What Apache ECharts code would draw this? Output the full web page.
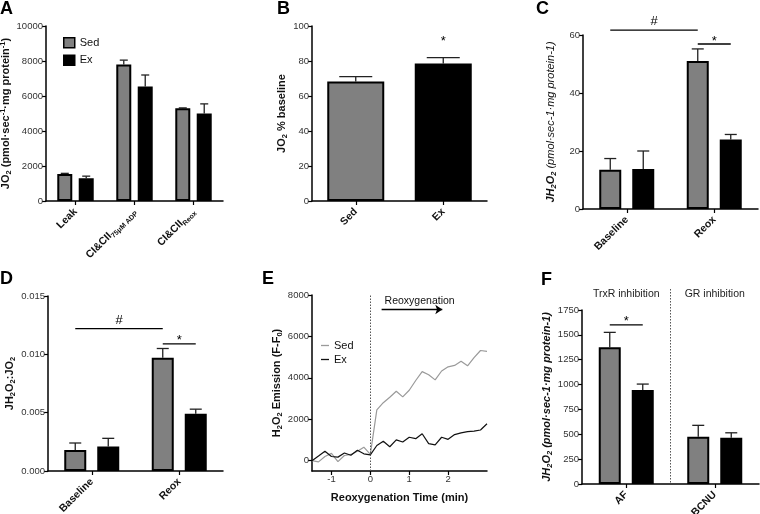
<!DOCTYPE html>
<html><head><meta charset="utf-8">
<script src="https://cdn.jsdelivr.net/npm/echarts@6/dist/echarts.min.js"></script>
<style>html,body{margin:0;padding:0;background:#fff}#c{width:760px;height:514px}</style>
</head><body><div id="c"></div>
<script>
const FF = "'Liberation Sans', Arial, Helvetica, sans-serif";

// ---------- Panel A ----------
const catsA = ['Leak', 'CI&CII_75μM ADP', 'CI&CII_Reox'];
const sedA = [1550, 7800, 5300];
const sedAErr = [30, 250, 20];
const exA = [1300, 6550, 5000];
const exAErr = [120, 650, 550];
const ticksA = [0, 10000, 2000];

// ---------- Panel B ----------
const catsB = ['Sed', 'Ex'];
const valsB = [68.3, 78.6];
const errB = [2.8, 3.3];
const starB = 93;
const ticksB = [0, 100, 20];

// ---------- Panel C ----------
const catsC = ['Baseline', 'Reox'];
const sedC = [13.5, 51.0];
const sedCErr = [3.9, 4.2];
const exC = [13.8, 24.0];
const exCErr = [6.2, 1.7];
const hashC = 61.7, starC = 56.9;
const ticksC = [0, 60, 20];

// ---------- Panel D ----------
const catsD = ['Baseline', 'Reox'];
const sedD = [0.0018, 0.0097];
const sedDErr = [0.0006, 0.0008];
const exD = [0.0021, 0.0049];
const exDErr = [0.0007, 0.0004];
const hashD = 0.0122, starD = 0.0109;
const ticksD = [0, 0.015, 0.005];

// ---------- Panel E ----------
const timeE = [-1.5, -1.333, -1.167, -1, -0.833, -0.667, -0.5, -0.333, -0.167, 0,
  0.167, 0.333, 0.5, 0.667, 0.833, 1, 1.167, 1.333, 1.5, 1.667, 1.833, 2, 2.167, 2.333, 2.5, 2.667, 2.833, 3];
const sedE = [0, -60, 200, 350, -50, 250, 300, 450, 650, 300,
  2450, 2800, 3060, 3350, 3080, 3400, 3870, 4300, 4150, 3900, 4330, 4530, 4600, 4800, 4580, 4980, 5320, 5280];
const exE = [0, 220, 450, 200, 170, 370, 260, 500, 330, 280,
  730, 940, 670, 1000, 900, 1130, 1060, 1300, 820, 760, 1130, 1030, 1260, 1340, 1400, 1430, 1480, 1780];
const xTicksE = [-1, 0, 1, 2];
const yTicksE = [0, 2000, 4000, 6000, 8000];
const rangeE = { xmin: -1.5, xmax: 3, ymin: -500, ymax: 8000 };
const reoxArrowX = [0.29, 1.85], reoxArrowY = 7300;

// ---------- Panel F ----------
const catsF = ['AF', 'BCNU'];
const sedF = [1375, 475];
const sedFErr = [150, 115];
const exF = [945, 465];
const exFErr = [60, 50];
const starF = 1600;
const groupsF = ['TrxR inhibition', 'GR inhibition'];
const groupLabelF = 1911, dividerTopF = 1961;
const ticksF = [0, 1750, 250];

// ---------- helpers ----------
const GRAY = '#808080';
const grids = [
  { left: 46, top: 26, width: 177, height: 175 },
  { left: 312, top: 26, width: 175, height: 175 },
  { left: 583, top: 35, width: 175, height: 174 },
  { left: 48, top: 296, width: 175, height: 175 },
  { left: 312, top: 295, width: 175, height: 176 },
  { left: 582, top: 310, width: 177, height: 174 }
].map(g => Object.assign({ outerBoundsMode: 'none', containLabel: false }, g));
const axisLine = { show: true, onZero: false, lineStyle: { color: '#000', width: 1.5 } };
const tickStyle = { show: true, length: 4, lineStyle: { color: '#000', width: 1.2 } };
const tickLabel = { fontSize: 9.5, color: '#333', margin: 3, fontFamily: FF, formatter: v => String(v) };

function nameRich(italic, boldRest) {
  const st = italic ? 'italic' : 'normal';
  return {
    b: { fontSize: 11, fontWeight: 'bold', fontStyle: st, fontFamily: FF, color: '#111', lineHeight: 14 },
    r: { fontSize: 11, fontWeight: boldRest ? 'bold' : 'normal', fontStyle: st, fontFamily: FF, color: '#111', lineHeight: 14 },
    s: { fontSize: 7.5, fontWeight: 'bold', fontStyle: st, fontFamily: FF, color: '#111', verticalAlign: 'bottom', lineHeight: 9 },
    p: { fontSize: 7.5, fontWeight: 'bold', fontStyle: st, fontFamily: FF, color: '#111', verticalAlign: 'top', lineHeight: 9 }
  };
}
function catAxis(gi, data) {
  return {
    type: 'category', gridIndex: gi, data,
    axisLine, axisTick: Object.assign({ alignWithLabel: true }, tickStyle),
    axisLabel: {
      rotate: 45, margin: 9, interval: 0, hideOverlap: false,
      formatter: v => { const [a, s] = v.split('_'); return s ? `{l|${a}}{s|${s}}` : `{l|${a}}`; },
      rich: {
        l: { fontSize: 10.5, fontWeight: 'bold', fontFamily: FF, color: '#111', lineHeight: 14 },
        s: { fontSize: 7, fontWeight: 'bold', fontFamily: FF, color: '#111', verticalAlign: 'bottom', lineHeight: 9 }
      }
    },
    splitLine: { show: false }
  };
}
function valAxisY(gi, t, name, gap, rich, fmt) {
  return {
    type: 'value', gridIndex: gi, min: t[0], max: t[1], interval: t[2],
    axisLine, axisTick: tickStyle,
    axisLabel: Object.assign({}, tickLabel, fmt ? { formatter: fmt } : {}),
    splitLine: { show: false },
    name, nameLocation: 'middle', nameGap: gap, nameRotate: 90,
    nameTextStyle: { rich }
  };
}
function bars(name, gi, vals, color, w, gap) {
  return { type: 'bar', name, xAxisIndex: gi, yAxisIndex: gi, data: vals, barWidth: w, barGap: gap,
    itemStyle: { color, borderColor: '#000', borderWidth: 2 }, z: 3, silent: true };
}
function errs(gi, vals, e, offset, capW) {
  return {
    type: 'custom', xAxisIndex: gi, yAxisIndex: gi, z: 2, silent: true, clip: false,
    data: vals.map((v, i) => [i, v, e[i]]),
    renderItem(params, api) {
      const i = api.value(0), v = api.value(1), d = api.value(2);
      const p0 = api.coord([i, v]), p1 = api.coord([i, v + d]);
      const x = p0[0] + offset;
      const st = { stroke: '#222', lineWidth: 1.3 };
      return { type: 'group', children: [
        { type: 'line', shape: { x1: x, y1: p0[1], x2: x, y2: p1[1] }, style: st },
        { type: 'line', shape: { x1: x - capW / 2, y1: p1[1], x2: x + capW / 2, y2: p1[1] }, style: st }
      ] };
    }
  };
}
function sigs(gi, list, off) {
  return {
    type: 'custom', xAxisIndex: gi, yAxisIndex: gi, z: 5, silent: true, clip: false,
    data: list.map(a => [a.from[0], a.level]),
    renderItem(params, api) {
      const a = list[params.dataIndex];
      const p1 = api.coord([a.from[0], a.level]), p2 = api.coord([a.to[0], a.level]);
      const x1 = p1[0] + a.from[1] * off, x2 = p2[0] + a.to[1] * off, y = p1[1];
      const ch = [];
      const hasLine = a.line !== false;
      if (hasLine) ch.push({ type: 'line', shape: { x1, y1: y, x2, y2: y }, style: { stroke: '#000', lineWidth: 1.3 } });
      const star = a.mark === '*';
      const ty = star ? (hasLine ? y - 9.5 : y - 3) : y - 2;
      ch.push({ type: 'text', style: { text: a.mark, x: (x1 + x2) / 2, y: ty,
        align: 'center', verticalAlign: star ? 'top' : 'bottom', fontSize: 13, fontFamily: FF, fill: '#000' } });
      return { type: 'group', children: ch };
    }
  };
}

const offA = 15 * 1.43 / 2, offW = 22 * 1.5 / 2;

const option = {
  animation: false,
  backgroundColor: '#fff',
  textStyle: { fontFamily: FF },
  title: [
    { text: 'A', left: 0, top: 0 }, { text: 'B', left: 277, top: 0 }, { text: 'C', left: 536, top: 0 },
    { text: 'D', left: 0, top: 270 }, { text: 'E', left: 262, top: 270 }, { text: 'F', left: 541, top: 271 }
  ].map(t => Object.assign({ padding: 0, textStyle: { fontSize: 18, fontWeight: 'bold', color: '#000', fontFamily: FF } }, t)),
  legend: [
    { left: 63, top: 37, padding: 0, orient: 'vertical', icon: 'rect', itemWidth: 11, itemHeight: 10, itemGap: 6,
      data: ['A Sed', 'A Ex'], formatter: n => n.slice(2), selectedMode: false,
      itemStyle: { borderColor: '#000', borderWidth: 1.5 },
      textStyle: { fontSize: 11, color: '#111', fontFamily: FF } },
    { left: 321, top: 339, padding: 0, orient: 'vertical', icon: 'rect', itemWidth: 8, itemHeight: 1.3, itemGap: 1,
      data: ['E Sed', 'E Ex'], formatter: n => n.slice(2), selectedMode: false,
      textStyle: { fontSize: 11, color: '#111', fontFamily: FF, lineHeight: 13 } }
  ],
  grid: grids,
  xAxis: [
    catAxis(0, catsA), catAxis(1, catsB), catAxis(2, catsC), catAxis(3, catsD),
    { type: 'value', gridIndex: 4, min: rangeE.xmin, max: rangeE.xmax,
      axisLine, axisTick: Object.assign({ customValues: xTicksE }, tickStyle),
      axisLabel: Object.assign({ customValues: xTicksE }, tickLabel), splitLine: { show: false },
      name: 'Reoxygenation Time (min)', nameLocation: 'middle', nameGap: 21,
      nameTextStyle: { fontSize: 11, fontWeight: 'bold', color: '#111', fontFamily: FF } },
    catAxis(5, catsF)
  ],
  yAxis: [
    valAxisY(0, ticksA, '{b|JO}{s|2}{b| (pmol·sec}{p|-1}{b|·mg protein}{p|-1}{b|)}', 30, nameRich(false, true)),
    valAxisY(1, ticksB, '{b|JO}{s|2}{b| % baseline}', 22, nameRich(false, true)),
    valAxisY(2, ticksC, '{b|JH}{s|2}{b|O}{s|2}{r| (pmol·sec-1·mg protein-1)}', 25, nameRich(true, false)),
    valAxisY(3, ticksD, '{b|JH}{s|2}{b|O}{s|2}{b|:JO}{s|2}', 30, nameRich(false, true), v => v.toFixed(3)),
    { type: 'value', gridIndex: 4, min: rangeE.ymin, max: rangeE.ymax,
      axisLine, axisTick: Object.assign({ customValues: yTicksE }, tickStyle),
      axisLabel: Object.assign({ customValues: yTicksE }, tickLabel), splitLine: { show: false },
      name: '{b|H}{s|2}{b|O}{s|2}{b| Emission (F-F}{s|0}{b|)}', nameLocation: 'middle', nameGap: 18, nameRotate: 90,
      nameTextStyle: { rich: nameRich(false, true) } },
    valAxisY(5, ticksF, '{b|JH}{s|2}{b|O}{s|2}{b| (pmol·sec-1·mg protein-1)}', 24, nameRich(true, true))
  ],
  series: [
    // A
    bars('A Sed', 0, sedA, GRAY, 15, '43%'), bars('A Ex', 0, exA, '#000', 15, '43%'),
    errs(0, sedA, sedAErr, -offA, 8), errs(0, exA, exAErr, offA, 8),
    // B
    { type: 'bar', name: 'B', xAxisIndex: 1, yAxisIndex: 1, barWidth: 57, z: 3, silent: true,
      data: valsB.map((v, i) => ({ value: v, itemStyle: { color: i ? '#000' : GRAY } })),
      itemStyle: { borderColor: '#000', borderWidth: 2 } },
    errs(1, valsB, errB, 0, 33),
    sigs(1, [{ from: [1, 0], to: [1, 0], level: starB, mark: '*', line: false }], 0),
    // C
    bars('C Sed', 2, sedC, GRAY, 22, '50%'), bars('C Ex', 2, exC, '#000', 22, '50%'),
    errs(2, sedC, sedCErr, -offW, 12), errs(2, exC, exCErr, offW, 12),
    sigs(2, [{ from: [0, -1], to: [1, -1], level: hashC, mark: '#' }, { from: [1, -1], to: [1, 1], level: starC, mark: '*' }], offW),
    // D
    bars('D Sed', 3, sedD, GRAY, 22, '50%'), bars('D Ex', 3, exD, '#000', 22, '50%'),
    errs(3, sedD, sedDErr, -offW, 12), errs(3, exD, exDErr, offW, 12),
    sigs(3, [{ from: [0, -1], to: [1, -1], level: hashD, mark: '#' }, { from: [1, -1], to: [1, 1], level: starD, mark: '*' }], offW),
    // E
    { type: 'line', name: 'E Sed', xAxisIndex: 4, yAxisIndex: 4, symbol: 'none', silent: true,
      data: timeE.map((t, i) => [t, sedE[i]]),
      lineStyle: { color: '#9a9a9a', width: 1.2 }, itemStyle: { color: '#9a9a9a' },
      markLine: { silent: true, symbol: ['none', 'none'], symbolSize: 7, animation: false,
        data: [
          { xAxis: 0, lineStyle: { type: [1.5, 1.5], color: '#555', width: 1 }, label: { show: false } },
          [ { coord: [reoxArrowX[0], reoxArrowY], symbol: 'none',
              lineStyle: { type: 'solid', color: '#000', width: 1.3 },
              label: { show: true, formatter: 'Reoxygenation', position: 'insideStartTop', distance: 3,
                fontSize: 10.5, color: '#111', fontFamily: FF } },
            { coord: [reoxArrowX[1], reoxArrowY], symbol: 'arrow' } ]
        ] } },
    { type: 'line', name: 'E Ex', xAxisIndex: 4, yAxisIndex: 4, symbol: 'none', silent: true,
      data: timeE.map((t, i) => [t, exE[i]]),
      lineStyle: { color: '#111', width: 1.2 }, itemStyle: { color: '#111' } },
    // F
    bars('F Sed', 5, sedF, GRAY, 22, '50%'), bars('F Ex', 5, exF, '#000', 22, '50%'),
    errs(5, sedF, sedFErr, -offW, 12), errs(5, exF, exFErr, offW, 12),
    sigs(5, [{ from: [0, -1], to: [0, 1], level: starF, mark: '*' }], offW),
    { type: 'custom', xAxisIndex: 5, yAxisIndex: 5, clip: false, silent: true, z: 1,
      data: groupsF.map((g, i) => [i, groupLabelF]),
      renderItem(params, api) {
        const i = params.dataIndex;
        const p = api.coord([i, api.value(1)]);
        const bw = api.size([1, 0])[0];
        const ch = [{ type: 'text', style: { text: groupsF[i], x: p[0], y: p[1], align: 'center', verticalAlign: 'middle',
          fontSize: 10.5, fontFamily: FF, fill: '#222' } }];
        if (i === 0) {
          const top = api.coord([i, dividerTopF]), base = api.coord([i, 0]);
          ch.push({ type: 'line', shape: { x1: p[0] + bw / 2, y1: top[1], x2: p[0] + bw / 2, y2: base[1] },
            style: { stroke: '#555', lineWidth: 1, lineDash: [1.5, 1.5] } });
        }
        return { type: 'group', children: ch };
      } }
  ]
};
const chart = echarts.init(document.getElementById('c'), null, { renderer: 'canvas' });
chart.setOption(option);
</script></body></html>
